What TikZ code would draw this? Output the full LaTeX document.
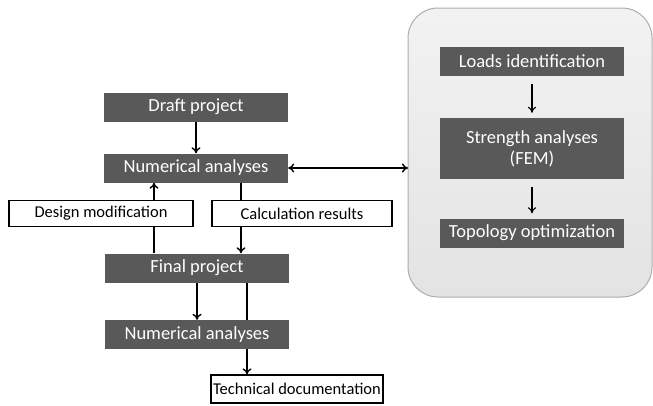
\documentclass[tikz,border=0pt]{standalone}
\usepackage{fontspec}
\setmainfont{Carlito}
\usepackage{xcolor}
\usetikzlibrary{positioning, arrows.meta}
\definecolor{boxgray}{HTML}{595959}

\begin{document}
\begin{tikzpicture}[x=1pt, y=-1pt,
        darkbox/.style={fill=boxgray, text=white, minimum width=184pt, minimum height=29pt,
            inner sep=2pt, align=center, font=\fontsize{18.5}{21}\selectfont},
        whitebox/.style={draw, line width=1.3pt, fill=white, minimum height=26pt, inner sep=2pt,
            font=\fontsize{16.5}{19}\selectfont},
        flow/.style={line width=1.4pt, -{To[length=6pt, width=9pt]}},
        thinflow/.style={line width=1.1pt, -{To[length=6pt, width=8pt]}}]
        \useasboundingbox (0,0) rectangle (653,405);
        % right panel
        \draw[draw=gray!65, line width=1pt, top color=gray!10, bottom color=gray!22, rounded corners=30pt]
            (408,8) rectangle (652,297);
        \node[darkbox] (loads) at (532,61) {Loads identification};
        \node[darkbox, minimum height=61pt] (strength) at (532,148.5) {Strength analyses\\(FEM)};
        \node[darkbox] (topo) at (532,233) {Topology optimization};
        \draw[thinflow] ([yshift=-8pt]loads.south) -- ([yshift=5pt]strength.north);
        \draw[thinflow] ([yshift=-8pt]strength.south) -- ([yshift=5pt]topo.north);
        % main flow
        \node[darkbox] (draft) at (196,107) {Draft project};
        \node[darkbox] (num1) at (196,168) {Numerical analyses};
        \node[darkbox] (final) at (197,268) {Final project};
        \coordinate (dm) at (154,0);
        \coordinate (cr) at (241,0);
        \coordinate (td) at (247,0);
        \draw[flow] (draft) -- (num1);
        \draw[flow] (final.north -| dm) -- (num1.south -| dm);
        \draw[flow] (num1.south -| cr) -- (final.north -| cr);
        \draw[flow, {To[length=6pt, width=9pt]}-{To[length=6pt, width=9pt]}] (num1.east) -- (408,168);
        \node[whitebox, minimum width=184pt] (design) at (101,213.5) {Design modification};
        \node[whitebox, minimum width=180pt] (calc) at (302,213.5) {Calculation results};
        \node[whitebox, minimum width=170pt, minimum height=28pt] (tech) at (297,389) {Technical documentation};
        \draw[flow] (final.south -| td) -- (tech.north -| td);
        \node[darkbox] (num2) at (197,334.5) {Numerical analyses};
        \draw[flow] (final) -- (num2);
        \end{tikzpicture}
\end{document}
